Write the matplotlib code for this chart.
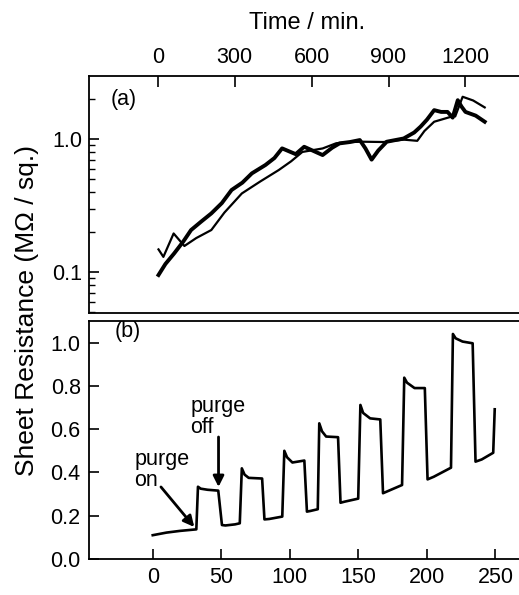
import numpy as np
import matplotlib.pyplot as plt
from matplotlib.ticker import FixedLocator, NullFormatter

plt.rcParams['font.family'] = ['Liberation Sans', 'DejaVu Sans']

# ---- panel (a): sheet resistance vs time (log scale), two runs ----
t_thick = [3, 30, 64, 100, 130, 170, 209, 250, 288, 330, 367, 420, 455, 485,
           538, 571, 643, 680, 709, 750, 788, 810, 834, 860, 893, 959, 1000,
           1025, 1050, 1078, 1105, 1130, 1150, 1170, 1185, 1200, 1240, 1275]
r_thick = [0.095, 0.115, 0.138, 0.17, 0.207, 0.24, 0.276, 0.33, 0.414, 0.47,
           0.552, 0.638, 0.72, 0.851, 0.77, 0.875, 0.758, 0.86, 0.928, 0.95,
           0.983, 0.85, 0.70, 0.82, 0.955, 1.01, 1.12, 1.24, 1.4, 1.65, 1.6,
           1.6, 1.45, 1.96, 1.75, 1.6, 1.5, 1.35]
t_thin = [3, 22, 62, 104, 150, 209, 260, 328, 400, 472, 520, 564, 643, 696,
          750, 801, 880, 959, 1012, 1040, 1078, 1143, 1160, 1189, 1230, 1275]
r_thin = [0.148, 0.13, 0.195, 0.157, 0.18, 0.207, 0.28, 0.39, 0.48, 0.585,
          0.68, 0.80, 0.85, 0.93, 0.95, 0.955, 0.95, 0.99, 0.97, 1.15, 1.35,
          1.47, 1.48, 2.08, 1.95, 1.73]

# ---- panel (b): purge on/off cycles ----
x_b = [0, 10, 20, 31.8, 33, 35, 40, 47.8, 50.5, 53, 60, 63.5,
       65, 67, 70, 79.8, 81.5, 85, 94.5,
       96, 98, 101.9, 110.6, 112.5, 115, 120.4,
       121.5, 123.5, 126.5, 135.2, 137, 140, 149.9,
       151.5, 153.5, 158.6, 166, 168, 172, 181.9,
       183.5, 185.5, 191, 198.5, 200.5, 205, 217.6,
       219, 221, 226, 233.4, 235.5, 240, 248.4, 249.5]
y_b = [0.11, 0.122, 0.13, 0.137, 0.334, 0.325, 0.32, 0.316, 0.157, 0.155, 0.16, 0.165,
       0.419, 0.39, 0.375, 0.372, 0.183, 0.185, 0.196,
       0.50, 0.47, 0.446, 0.455, 0.219, 0.222, 0.23,
       0.627, 0.59, 0.566, 0.563, 0.26, 0.265, 0.279,
       0.712, 0.675, 0.65, 0.645, 0.304, 0.315, 0.342,
       0.838, 0.815, 0.79, 0.79, 0.368, 0.38, 0.422,
       1.04, 1.02, 1.005, 0.997, 0.45, 0.46, 0.491, 0.692]

FS = 15.5
FL = 17
fig = plt.figure(figsize=(5.19, 5.95), dpi=100)

# top panel
ax1 = fig.add_axes([89/519, 1 - 313/595, 1 - 89/519 + 0.01, (313 - 76)/595])
ax1.plot(t_thin, r_thin, color='black', lw=1.6)
ax1.plot(t_thick, r_thick, color='black', lw=2.8)
ax1.set_yscale('log')
ax1.set_xlim(-268, 1429)
ax1.set_ylim(0.0492, 2.98)
ax1.xaxis.tick_top()
ax1.set_xticks([0, 300, 600, 900, 1200])
ax1.tick_params(axis='x', direction='in', length=8, width=1.2, pad=6,
                labelsize=FS, top=True, bottom=False)
ax1.yaxis.set_major_locator(FixedLocator([0.1, 1.0]))
ax1.set_yticklabels(['0.1', '1.0'])
ax1.yaxis.set_minor_locator(FixedLocator([0.05, 0.06, 0.07, 0.08, 0.09,
                                          0.2, 0.3, 0.4, 0.5, 0.6, 0.7, 0.8, 0.9, 2.0]))
ax1.yaxis.set_minor_formatter(NullFormatter())
ax1.tick_params(axis='y', which='major', direction='in', length=7, width=1.2,
                pad=5, labelsize=FS)
ax1.tick_params(axis='y', which='minor', direction='in', length=4, width=1.0)
ax1.spines['right'].set_visible(False)
for s in ['left', 'top', 'bottom']:
    ax1.spines[s].set_linewidth(1.3)
ax1.text(0.049, 0.899, '(a)', transform=ax1.transAxes, fontsize=FS, va='center')
ax1.set_xlabel('Time / min.', fontsize=FL, labelpad=13)
ax1.xaxis.set_label_position('top')

# bottom panel
ax2 = fig.add_axes([89/519, 1 - 559/595, 1 - 89/519 + 0.01, (559 - 321)/595])
ax2.plot(x_b, y_b, color='black', lw=1.9)
ax2.set_xlim(-46.5, 271)
ax2.set_ylim(0, 1.10)
ax2.set_xticks([0, 50, 100, 150, 200, 250])
ax2.set_yticks([0.0, 0.2, 0.4, 0.6, 0.8, 1.0])
ax2.set_yticklabels(['0.0', '0.2', '0.4', '0.6', '0.8', '1.0'])
ax2.tick_params(axis='both', direction='in', length=7, width=1.2, pad=6,
                labelsize=FS)
ax2.spines['right'].set_visible(False)
for s in ['left', 'top', 'bottom']:
    ax2.spines[s].set_linewidth(1.3)
ax2.text(0.06, 0.954, '(b)', transform=ax2.transAxes, fontsize=FS, va='center')

ax2.text(-13.3, 0.41, 'purge\non', fontsize=FS, ha='left', va='center',
         linespacing=1.0)
ax2.annotate('', xy=(30.3, 0.148), xytext=(6, 0.333),
             arrowprops=dict(arrowstyle='-|>', color='black', lw=2.0,
                             mutation_scale=16, shrinkA=0, shrinkB=0))
ax2.text(27.3, 0.656, 'purge\noff', fontsize=FS, ha='left', va='center',
         linespacing=1.0)
ax2.annotate('', xy=(48, 0.333), xytext=(48, 0.564),
             arrowprops=dict(arrowstyle='-|>', color='black', lw=2.0,
                             mutation_scale=16, shrinkA=0, shrinkB=0))

fig.text(27/519, 1 - 311/595, 'Sheet Resistance (M\u03a9 / sq.)', rotation=90,
         ha='center', va='center', fontsize=19)

fig.savefig('out.png', dpi=100)
